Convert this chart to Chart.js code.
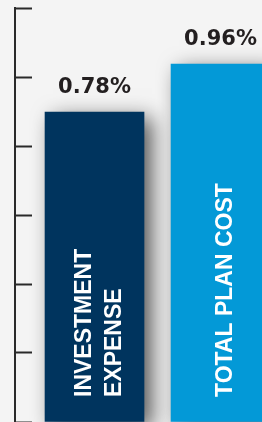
<!DOCTYPE html>
<html>
<head>
<meta charset="utf-8">
<script src="https://cdn.jsdelivr.net/npm/chart.js@4"></script>
<style>
  html, body { margin: 0; padding: 0; background: #f4f4f4; overflow: hidden; }
  #wrap { position: relative; width: 262px; height: 422px; }
</style>
</head>
<body>
<div id="wrap"><canvas id="costChart"></canvas></div>
<script>
// Chart data
const barLabels = [['INVESTMENT', 'EXPENSE'], ['TOTAL PLAN COST']];
const barPositions = [1, 2];
const barValues = [0.78, 0.96];
const barColors = ['#00345e', '#0399d7'];

// Axis ranges (the ruler on the left has 7 unlabelled ticks)
const yMin = -0.3825;
const yMax = 1.17;
const yTickCount = 7;
const xMin = 0.369;
const xMax = 2.329;

// Shadow under the bars, then value labels and rotated names
const barDecorations = {
  id: 'barDecorations',
  beforeDatasetsDraw(chart) {
    const ctx = chart.ctx;
    ctx.save();
    ctx.shadowColor = 'rgba(0, 0, 0, 0.65)';
    ctx.shadowBlur = 20;
    ctx.shadowOffsetX = 8;
    ctx.shadowOffsetY = 6;
  },
  afterDatasetsDraw(chart) {
    const ctx = chart.ctx;
    ctx.restore();

    const meta = chart.getDatasetMeta(0);
    const area = chart.chartArea;
    meta.data.forEach(function(bar, i) {
      // value above the bar
      ctx.save();
      ctx.fillStyle = '#231f20';
      ctx.font = 'bold 21px "DejaVu Sans"';
      ctx.textAlign = 'center';
      ctx.textBaseline = 'alphabetic';
      ctx.fillText(barValues[i].toFixed(2) + '%', bar.x, bar.y - 19);
      ctx.restore();

      // category name written upwards inside the bar
      const lines = barLabels[i];
      ctx.save();
      ctx.fillStyle = '#ffffff';
      ctx.font = 'bold 23px "Liberation Sans"';
      ctx.textAlign = 'left';
      ctx.textBaseline = 'alphabetic';
      lines.forEach(function(line, j) {
        const cx = bar.x + 3 + (j - (lines.length - 1) / 2) * 29.5;
        ctx.save();
        ctx.translate(cx + 8.5, area.bottom - 25);
        ctx.rotate(-Math.PI / 2);
        ctx.fillText(line, 0, 0);
        ctx.restore();
      });
      ctx.restore();
    });
  }
};

const costCtx = document.getElementById('costChart');
const costChart = new Chart(costCtx.getContext('2d'), {
  type: 'bar',
  data: {
    datasets: [{
      data: barPositions.map((x, i) => ({ x: x, y: barValues[i] })),
      backgroundColor: barColors,
      borderWidth: 0,
      barThickness: 99,
      base: yMin
    }]
  },
  options: {
    responsive: true,
    maintainAspectRatio: false,
    animation: false,
    layout: {
      padding: { top: 8, right: 0, bottom: 0, left: 0 }
    },
    plugins: {
      legend: { display: false },
      tooltip: { enabled: false }
    },
    scales: {
      x: {
        type: 'linear',
        min: xMin,
        max: xMax,
        offset: false,
        display: false
      },
      y: {
        min: yMin,
        max: yMax,
        position: 'left',
        ticks: { display: false, count: yTickCount },
        border: { display: true, color: '#2a2a2a', width: 2 },
        grid: {
          drawOnChartArea: false,
          drawTicks: true,
          tickLength: -17,
          tickColor: '#2a2a2a',
          tickWidth: 2
        },
        afterFit: function(scale) {
          scale.width = 15;
        }
      }
    }
  },
  plugins: [barDecorations]
});
</script>
</body>
</html>
